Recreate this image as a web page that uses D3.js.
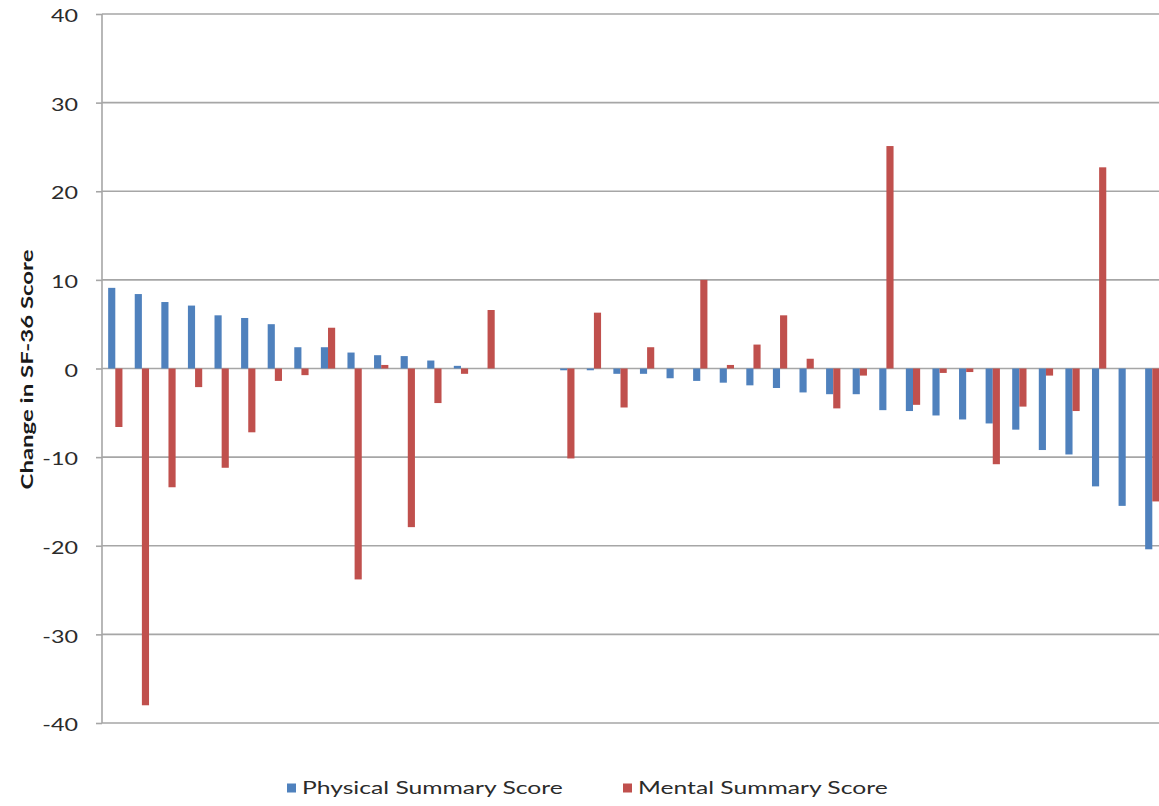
<!DOCTYPE html>
<html>
<head>
<meta charset="utf-8">
<script src="https://cdn.jsdelivr.net/npm/d3@7"></script>
<style>
  html, body { margin: 0; padding: 0; background: #ffffff; overflow: hidden; }
  svg { display: block; }
</style>
</head>
<body>
<svg id="chart" width="1159" height="806"></svg>
<script>
// ---- data ----
const categories = d3.range(1, 41).map(String);
const physicalScores = [9.1, 8.4, 7.5, 7.1, 6.0, 5.7, 5.0, 2.4, 2.4, 1.8, 1.5, 1.4, 0.9, 0.3,
  0, 0, 0, -0.2, -0.2, -0.6, -0.6, -1.1, -1.4, -1.6, -1.9, -2.2, -2.7, -2.9, -2.9, -4.7,
  -4.8, -5.3, -5.75, -6.2, -6.9, -9.2, -9.7, -13.3, -15.5, -20.4];
const mentalScores = [-6.6, -38.0, -13.4, -2.1, -11.2, -7.2, -1.4, -0.75, 4.6, -23.8, 0.4, -17.9, -3.9, -0.6,
  6.6, 0, 0, -10.15, 6.3, -4.4, 2.4, 0, 10.0, 0.4, 2.7, 6.0, 1.1, -4.5, -0.8, 25.1,
  -4.1, -0.5, -0.4, -10.8, -4.3, -0.8, -4.8, 22.7, 0, -15.0];
const seriesNames = ["Physical Summary Score", "Mental Summary Score"];
const seriesColors = ["#4F81BD", "#C0504D"];
const yTicks = [-40, -30, -20, -10, 0, 10, 20, 30, 40];
const yTitle = "Change in SF-36 Score";

// ---- layout ----
const svg = d3.select("#chart");
const plotLeft = 102, plotTop = 14, plotBottom = 723;
const groupStep = 26.59;
const plotRight = plotLeft + groupStep * categories.length;
const fontFam = "Lato, 'Open Sans', sans-serif";
const stretch = 1.37;   // text in the picture is widened along its reading direction

const y = d3.scaleLinear().domain([-40, 40]).range([plotBottom, plotTop]);
const x0 = d3.scaleBand().domain(categories).range([plotLeft, plotRight]).padding(0);
const x1 = d3.scaleBand().domain([0, 1]).range([0, x0.bandwidth()]).paddingInner(0).paddingOuter(0.86);

const gridColor = "#a6a6a6";

// y axis ticks and labels
const yAxis = d3.axisLeft(y).tickValues(yTicks).tickSize(6).tickFormat(d => String(d));
const gAxis = svg.append("g").attr("transform", `translate(${plotLeft},0)`).call(yAxis);
gAxis.select(".domain").remove();
gAxis.selectAll(".tick line").attr("stroke", gridColor).attr("stroke-width", 1.6);
gAxis.selectAll(".tick text")
  .attr("x", 0)
  .attr("dy", "0.45em")
  .attr("transform", `translate(-24,0) scale(${stretch},1)`)
  .attr("font-family", fontFam)
  .attr("font-size", 17)
  .attr("fill", "#2b2b2b");

// gridlines (including zero line)
svg.append("g").selectAll("line.grid")
  .data(yTicks)
  .join("line")
  .attr("x1", plotLeft).attr("x2", 1159)
  .attr("y1", d => y(d)).attr("y2", d => y(d))
  .attr("stroke", gridColor).attr("stroke-width", 1.6);

// left axis line
svg.append("line")
  .attr("x1", plotLeft).attr("x2", plotLeft)
  .attr("y1", y(40)).attr("y2", y(-40))
  .attr("stroke", gridColor).attr("stroke-width", 1.6);

// bars
const groups = svg.append("g").selectAll("g")
  .data(categories)
  .join("g")
  .attr("transform", d => `translate(${x0(d)},0)`);

groups.selectAll("rect")
  .data((d, i) => [physicalScores[i], mentalScores[i]].map((v, s) => ({ v, s })))
  .join("rect")
  .attr("x", d => x1(d.s))
  .attr("width", x1.bandwidth())
  .attr("y", d => y(Math.max(0, d.v)))
  .attr("height", d => Math.abs(y(d.v) - y(0)))
  .attr("fill", d => seriesColors[d.s]);

// y-axis title
svg.append("text")
  .attr("transform", `translate(33, ${y(0) + 1}) rotate(-90) scale(${stretch},1)`)
  .attr("text-anchor", "middle")
  .attr("font-family", fontFam)
  .attr("font-weight", "bold")
  .attr("font-size", 17.5)
  .attr("fill", "#1a1a1a")
  .text(yTitle);

// legend
const legendItems = [
  { name: seriesNames[0], color: seriesColors[0], x: 287 },
  { name: seriesNames[1], color: seriesColors[1], x: 623 }
];
const lg = svg.append("g").selectAll("g")
  .data(legendItems)
  .join("g")
  .attr("transform", d => `translate(${d.x}, 783.5)`);
lg.append("rect").attr("width", 9).attr("height", 9).attr("fill", d => d.color);
lg.append("text")
  .attr("transform", `translate(15, 4.5) scale(${stretch},1)`)
  .attr("dy", "0.36em")
  .attr("font-family", fontFam)
  .attr("font-size", 18)
  .attr("fill", "#2b2b2b")
  .text(d => d.name);
</script>
</body>
</html>
